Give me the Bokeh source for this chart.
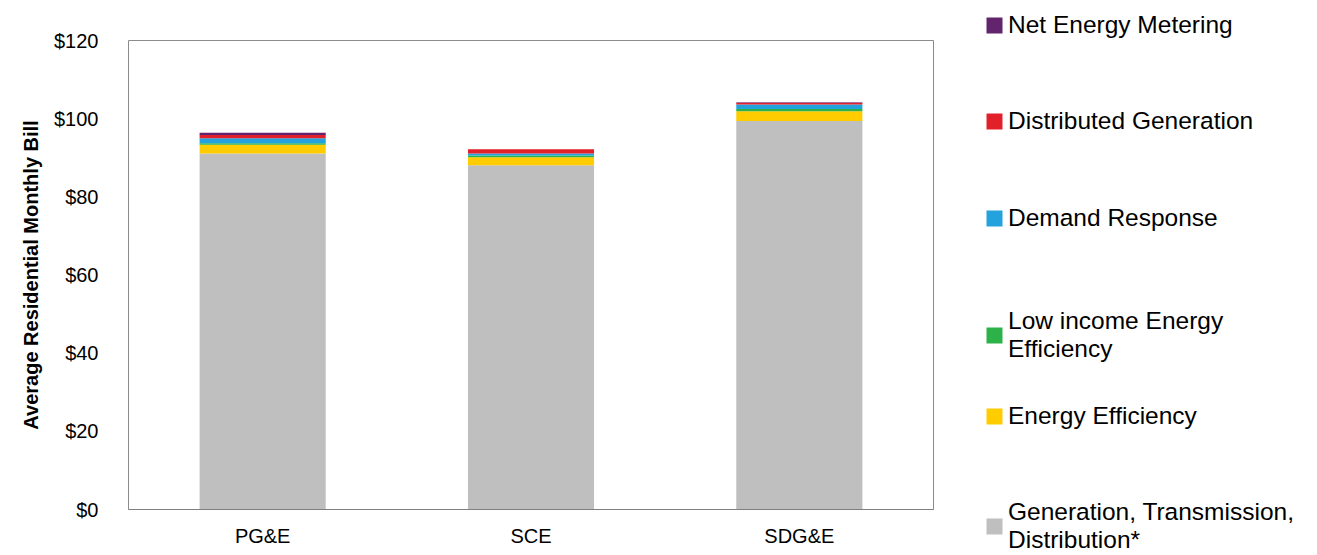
from bokeh.plotting import figure
from bokeh.layouts import row, column
from bokeh.models import Legend, LegendItem, NumeralTickFormatter, FactorRange, Range1d
from bokeh.embed import file_html
from bokeh.resources import INLINE

utilities = ["PG&E", "SCE", "SDG&E"]
gtd = [91.1, 88.1, 99.4]
ee = [2.2, 2.0, 2.5]
liee = [0.4, 0.5, 0.6]
dr = [1.3, 0.5, 1.1]
dg = [0.8, 1.1, 0.5]
nem = [0.6, 0.0, 0.1]

series = ["gtd", "ee", "liee", "dr", "dg", "nem"]
labels = ["Generation, Transmission,\nDistribution*", "Energy Efficiency",
          "Low income Energy\nEfficiency", "Demand Response",
          "Distributed Generation", "Net Energy Metering"]
colors = ["#BFBFBF", "#FFCC00", "#2DB24A", "#22A3DD", "#E2202A", "#63246E"]
y_ticks = [0, 20, 40, 60, 80, 100, 120]

data = dict(utility=utilities, gtd=gtd, ee=ee, liee=liee, dr=dr, dg=dg, nem=nem)

FONT = "Liberation Sans"
H = 555
W1 = 953

p = figure(x_range=FactorRange(*utilities, range_padding=0), y_range=Range1d(0, 120),
           width=W1, height=H, output_backend="svg", toolbar_location=None,
           min_border_left=128, min_border_right=20, min_border_top=40, min_border_bottom=H - 509)

rs = p.vbar_stack(series, x="utility", width=0.47, color=colors, line_color=None, source=data)

p.xgrid.visible = False
p.ygrid.visible = False
p.outline_line_color = "#8C8C8C"
p.outline_line_width = 1

p.yaxis.ticker = y_ticks
p.yaxis.formatter = NumeralTickFormatter(format="$0")
p.yaxis.axis_line_color = None
p.yaxis.major_tick_line_color = None
p.yaxis.minor_tick_line_color = None
p.yaxis.major_label_standoff = 24
p.yaxis.major_label_text_font = FONT
p.yaxis.major_label_text_font_size = "20px"
p.yaxis.major_label_text_color = "#000000"
p.yaxis.axis_label = "Average Residential Monthly Bill"
p.yaxis.axis_label_text_font = FONT
p.yaxis.axis_label_text_font_style = "bold"
p.yaxis.axis_label_text_font_size = "20px"
p.yaxis.axis_label_text_color = "#000000"
p.yaxis.axis_label_standoff = 9

p.xaxis.axis_line_color = "#7F7F7F"
p.xaxis.major_tick_line_color = None
p.xaxis.minor_tick_line_color = None
p.xaxis.major_label_standoff = 9
p.xaxis.major_label_text_font = FONT
p.xaxis.major_label_text_font_size = "20px"
p.xaxis.major_label_text_color = "#000000"

# legend panel (a second figure beside the chart)
LW = 1317 - W1
lf = figure(width=LW, height=H, output_backend="svg", toolbar_location=None,
            x_range=Range1d(0, 1), y_range=Range1d(0, 1),
            x_axis_type=None, y_axis_type=None, min_border=0)
lf.outline_line_color = None
lf.xgrid.visible = False
lf.ygrid.visible = False

LEG_FS = 24.5
centers = {"nem": 24.5, "dg": 121, "dr": 218, "liee": 319, "ee": 416, "gtd": 510}
for s, lab, c in zip(series, labels, colors):
    r = lf.vbar(x=[5], top=[5], bottom=[4], width=0.5, color=c, line_color=None)
    extra = LEG_FS * 1.2 if "\n" in lab else 0
    # location = bottom-left corner of the legend, measured from the frame bottom
    bottom = centers[s] + LEG_FS * 0.585 + extra
    lg = Legend(items=[LegendItem(label=lab, renderers=[r])],
                location=(984 - W1, H - bottom),
                padding=0, margin=0, border_line_color=None, background_fill_alpha=0,
                glyph_width=20, glyph_height=20, label_standoff=4, label_height=20,
                label_text_font=FONT, label_text_font_size=f"{LEG_FS}px",
                label_text_color="#000000")
    lf.add_layout(lg, "center")

layout = row(p, column(lf))
open("out.html", "w").write(file_html(layout, INLINE))
